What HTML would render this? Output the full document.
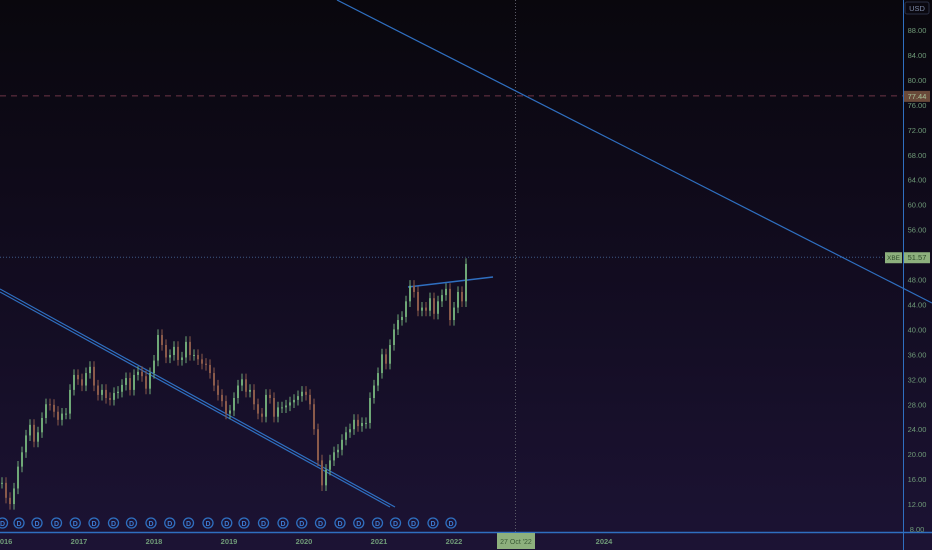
<!DOCTYPE html>
<html><head><meta charset="utf-8">
<style>
html,body{margin:0;padding:0;width:932px;height:550px;overflow:hidden;background:#000}
svg{display:block}
text{font-family:"Liberation Sans",sans-serif}
</style></head>
<body>
<svg id="chart" width="932" height="550" viewBox="0 0 932 550" xmlns="http://www.w3.org/2000/svg">
<defs>
<linearGradient id="bg" x1="0" y1="0" x2="0" y2="1">
<stop offset="0" stop-color="#09070d"/>
<stop offset="0.5" stop-color="#120c20"/>
<stop offset="1" stop-color="#1c1334"/>
</linearGradient>
</defs>
<rect x="0" y="0" width="932" height="550" fill="url(#bg)"/>
<g id="overlays"></g>
<g id="candles"></g>
<g id="axes"></g>
</svg>
<script>
// ---- data ----
const priceTicks = [8,12,16,20,24,28,32,36,40,44,48,56,60,64,68,72,76,80,84,88];
const yearTicks = [2016,2017,2018,2019,2020,2021,2022,2024];
const yearLabels = ["2016","2017","2018","2019","2020","2021","2022","2024"];
const seriesStart = 2015.96;
const seriesStep = 4/75;
const closes = [15.4,13,12,14.5,18,20.3,23,24.7,22,23.5,25.8,28,27.9,26.8,25.5,26.5,26.5,30.3,32.7,32,31,33,34,31,29.5,30.3,29,28.7,29.8,30,31.1,32.2,30.3,32.7,33.2,32.5,30.5,33,35,39.1,37.5,35.5,35.9,37.2,35.1,35.5,38,35.9,35.9,35.2,34.5,34.3,33,31,29.5,28.5,26.5,27,29,31,32,30,30.3,28,26.5,26,29.5,29,26,27.5,27.5,27.8,28.3,28.7,29.3,30,29.5,28,24,19,15,17.5,19,20.3,20.7,22.3,23.5,24,25.5,24.5,25,25,29,31,33,36,34.5,37.5,40,41.5,42,44.5,47,46,43,43.5,43,45,42.5,44.5,45.5,46.5,41.5,43.5,46,44.5,50.5];
const dividendDates = [2015.98,2016.2,2016.44,2016.7,2016.95,2017.2,2017.46,2017.7,2017.96,2018.21,2018.46,2018.72,2018.97,2019.2,2019.46,2019.72,2019.97,2020.22,2020.48,2020.73,2020.98,2021.22,2021.46,2021.72,2021.96];
const lastPrice = 51.57;
const alertPrice = 77.44;

// ---- scales ----
function X(t){return 4+(t-2016)*75;}
function Y(p){return 529-(p-8)*6.2375;}
const NS="http://www.w3.org/2000/svg";
function mk(tag,attrs,parent){const e=document.createElementNS(NS,tag);for(const k in attrs)e.setAttribute(k,attrs[k]);parent.appendChild(e);return e;}
const ov=document.getElementById('overlays'), cg=document.getElementById('candles'), ax=document.getElementById('axes');

// overlays
let e;
e=mk('line',{x1:0,y1:Y(alertPrice),x2:903,y2:Y(alertPrice),stroke:'#6e3446','stroke-width':1,'stroke-dasharray':'6,5'},ov);


e=mk('line',{x1:0,y1:Y(lastPrice),x2:903,y2:Y(lastPrice),stroke:'#3d5a86','stroke-width':1,'stroke-dasharray':'1,2'},ov);


e=mk('line',{x1:515.5,y1:0,x2:515.5,y2:532,stroke:'#5a5a66','stroke-width':1,'stroke-dasharray':'1,2'},ov);


e=mk('line',{x1:337,y1:0,x2:932,y2:303,stroke:'#2f6fc0','stroke-width':1.2},ov);


e=mk('line',{x1:0,y1:289,x2:395,y2:507,stroke:'#2f6fc0','stroke-width':1.2},ov);


e=mk('line',{x1:0,y1:292,x2:390,y2:507,stroke:'#2f6fc0','stroke-width':1.2},ov);


e=mk('line',{x1:408,y1:287,x2:493,y2:277,stroke:'#2f6fc0','stroke-width':1.5},ov);



// candles
for(let i=0;i<closes.length;i++){
  const c=closes[i], o=i>0?closes[i-1]:c;
  const t=seriesStart+i*seriesStep, x=X(t);
  const up=c>=o, col=up?'#6fa877':'#8a5a4a';
  const hi=Math.max(o,c)+0.9, lo=Math.min(o,c)-0.9;
  const w=mk('line',{x1:x+1,y1:Y(hi),x2:x+1,y2:Y(lo),stroke:col,'stroke-width':1},cg);
  
  
  const top=Y(Math.max(o,c)), h=Math.max(1,Math.abs(Y(o)-Y(c)));
  const b=mk('rect',{x:x,y:top,width:2,height:h,fill:col},cg);
  
  
}

// dividend markers
for(const d of dividendDates){
  const x=X(d);
  const g=mk('g',{},ax);
  
  
  mk('circle',{cx:x,cy:523,r:5,fill:'none',stroke:'#2f6fc0','stroke-width':1.3},g);
  const t=mk('text',{x:x,y:526,'font-size':7,fill:'#3d7ad0','text-anchor':'middle','font-weight':'bold'},g);t.textContent='D';
}

// axes lines
e=mk('line',{x1:903.5,y1:0,x2:903.5,y2:550,stroke:'#2f6fc0','stroke-width':1},ax);


e=mk('line',{x1:0,y1:532.5,x2:932,y2:532.5,stroke:'#2f6fc0','stroke-width':1.5},ax);



// price ticks
for(const p of priceTicks){
  const t=mk('text',{x:917,y:Y(p)+3,'font-size':7.5,fill:'#6f9a78','text-anchor':'middle'},ax);
  
  
  t.textContent=p.toFixed(2);
}
// year ticks
yearTicks.forEach((yr,i)=>{
  const t=mk('text',{x:X(yr),y:544,'font-size':7.5,fill:'#6f9a78','text-anchor':'middle','font-weight':'bold'},ax);
  
  
  t.textContent=yearLabels[i];
});

// USD badge
e=mk('rect',{x:905,y:2,width:24,height:12,rx:2,fill:'#0a0810',stroke:'#2a2f44'},ax);


e=mk('text',{x:917,y:11,'font-size':7.5,fill:'#7d8aa8','text-anchor':'middle'},ax);e.textContent='USD';



// alert label
e=mk('rect',{x:904,y:Y(alertPrice)-5,width:26,height:11,fill:'#6a4a3a'},ax);


e=mk('text',{x:917,y:Y(alertPrice)+3,'font-size':7.5,fill:'#a9c59a','text-anchor':'middle'},ax);e.textContent=alertPrice.toFixed(2);



// last price labels
e=mk('rect',{x:885,y:Y(lastPrice)-5,width:17,height:11,fill:'#8db07d'},ax);


e=mk('text',{x:893.5,y:Y(lastPrice)+3,'font-size':6.5,fill:'#2d4a2a','text-anchor':'middle'},ax);e.textContent='XBE';


e=mk('rect',{x:904,y:Y(lastPrice)-5,width:26,height:11,fill:'#8db07d'},ax);


e=mk('text',{x:917,y:Y(lastPrice)+3,'font-size':7.5,fill:'#2d4a2a','text-anchor':'middle'},ax);e.textContent=lastPrice.toFixed(2);



// crosshair date label
e=mk('rect',{x:497,y:533,width:38,height:16,fill:'#8db07d'},ax);


e=mk('text',{x:516,y:544,'font-size':7,fill:'#3a5a36','text-anchor':'middle'},ax);e.textContent="27 Oct '22";


</script>
</body></html>
